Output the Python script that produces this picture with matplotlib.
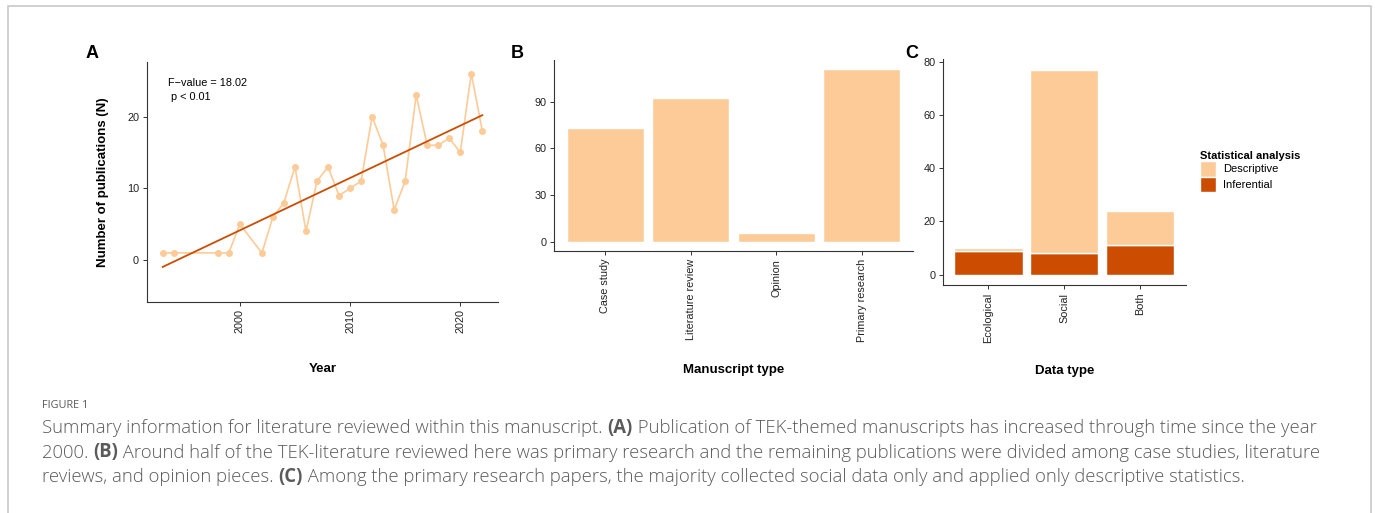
import numpy as np
import matplotlib
matplotlib.use("Agg")
import matplotlib.pyplot as plt
from matplotlib.patches import Patch

# panel A: publications per year
years = [1993, 1994, 1998, 1999, 2000, 2002, 2003, 2004, 2005, 2006, 2007, 2008, 2009,
         2010, 2011, 2012, 2013, 2014, 2015, 2016, 2017, 2018, 2019, 2020, 2021, 2022]
pubs = [1, 1, 1, 1, 5, 1, 6, 8, 13, 4, 11, 13, 9, 10, 11, 20, 16, 7, 11, 23, 16, 16, 17, 15, 26, 18]

# panel B: manuscript type
man_types = ["Case study", "Literature review", "Opinion", "Primary research"]
man_counts = [73, 92, 6, 111]

# panel C: data type x statistical analysis
data_types = ["Ecological", "Social", "Both"]
inferential = [9, 8, 11]
descriptive = [1, 69, 13]

LIGHT = "#fdcb98"
DARK = "#cc4c02"
AXC = "#333333"
FONT = "Liberation Sans"

W, H = 1375, 513
fig = plt.figure(figsize=(W / 100, H / 100), dpi=100)
plt.rcParams["font.family"] = [FONT, "DejaVu Sans"]


def px_axes(l, t, r, b):
    return fig.add_axes([l / W, 1 - b / H, (r - l) / W, (b - t) / H])


def classic(ax):
    for s in ["top", "right"]:
        ax.spines[s].set_visible(False)
    for s in ["left", "bottom"]:
        ax.spines[s].set_color(AXC)
        ax.spines[s].set_linewidth(0.8)
    ax.tick_params(colors=AXC, labelcolor="#222222", labelsize=7.8, length=3, width=0.7, pad=2.5)


# ---- A
axA = px_axes(146.7, 61.7, 498.3, 301.7)
classic(axA)
axA.plot(years, pubs, color=LIGHT, lw=1.2, marker="o", ms=4, mec=LIGHT, mfc=LIGHT)
slope, icpt = np.polyfit(years, pubs, 1)
xs = np.array([min(years), max(years)])
axA.plot(xs, slope * xs + icpt, color=DARK, lw=1.3)
axA.set_xlim(1991.55, 2023.45)
axA.set_ylim(-5.8, 27.65)
axA.set_xticks([2000, 2010, 2020])
axA.set_yticks([0, 10, 20])
for lab in axA.get_xticklabels():
    lab.set_rotation(90)
    lab.set_va("top")
axA.text(0.06, 0.93, "F\u2212value = 18.02\n p < 0.01", transform=axA.transAxes,
         fontsize=7.8, va="top", ha="left", linespacing=1.4)
axA.set_xlabel("Year", fontsize=9.5, fontweight="bold", labelpad=21)
axA.set_ylabel("Number of publications (N)", fontsize=9.5, fontweight="bold", labelpad=13)

# ---- B
axB = px_axes(554, 60, 913, 251)
classic(axB)
xb = np.arange(1, len(man_types) + 1)
axB.bar(xb, man_counts, width=0.9, color=LIGHT, edgecolor="white", lw=1)
axB.set_xlim(0.4, 4.6)
axB.set_ylim(-5.55, 116.55)
axB.set_yticks([0, 30, 60, 90])
axB.set_xticks(xb)
axB.set_xticklabels(man_types, rotation=90, va="top")
axB.set_xlabel("Manuscript type", fontsize=9.5, fontweight="bold", labelpad=16)

# ---- C
axC = px_axes(943, 59.4, 1185.5, 285)
classic(axC)
xc = np.arange(1, len(data_types) + 1)
axC.bar(xc, inferential, width=0.9, color=DARK, edgecolor="white", lw=1)
axC.bar(xc, descriptive, bottom=inferential, width=0.9, color=LIGHT, edgecolor="white", lw=1)
axC.set_xlim(0.4, 3.6)
axC.set_ylim(-3.85, 80.85)
axC.set_yticks([0, 20, 40, 60, 80])
axC.set_xticks(xc)
axC.set_xticklabels(data_types, rotation=90, va="top")
axC.set_xlabel("Data type", fontsize=9.5, fontweight="bold", labelpad=16)

handles = [Patch(facecolor=LIGHT, edgecolor="white"), Patch(facecolor=DARK, edgecolor="white")]
leg = fig.legend(handles, ["Descriptive", "Inferential"], title="Statistical analysis",
                 loc="upper left", bbox_to_anchor=(1200 / W, 1 - 151 / H), frameon=False,
                 fontsize=8, title_fontproperties={"weight": "bold", "size": 8},
                 handlelength=1.45, handleheight=1.8, handletextpad=0.6,
                 labelspacing=0.0, borderaxespad=0, borderpad=0)
leg._legend_box.align = "left"

# panel letters
for x, y, s in [(92, 53, "A"), (517, 54, "B"), (912, 54, "C")]:
    fig.text(x / W, 1 - y / H, s, fontsize=13, fontweight="bold", ha="center", va="center")

# caption
CAP = "#5a5a5a"
cfam = ["Open Sans", "DejaVu Sans"]
fig.text(42 / W, 1 - 406 / H, "FIGURE 1", fontsize=7.8, color=CAP, family=cfam,
         va="center", ha="left")
lines = [
    [("Summary information for literature reviewed within this manuscript. ", False), ("(A)", True),
     (" Publication of TEK-themed manuscripts has increased through time since the year", False)],
    [("2000. ", False), ("(B)", True),
     (" Around half of the TEK-literature reviewed here was primary research and the remaining publications were divided among case studies, literature", False)],
    [("reviews, and opinion pieces. ", False), ("(C)", True),
     (" Among the primary research papers, the majority collected social data only and applied only descriptive statistics.", False)],
]
fig.canvas.draw()
rend = fig.canvas.get_renderer()
for i, segs in enumerate(lines):
    x = 42 / W
    y = 1 - (428 + i * 24.5) / H
    for s, bold in segs:
        t = fig.text(x, y, s, fontsize=13.35, color=CAP, family=cfam, va="center", ha="left",
                     fontweight="bold" if bold else "light")
        bb = t.get_window_extent(renderer=rend)
        x += bb.width / W

# outer border
fig.add_artist(plt.Line2D([8 / W, 8 / W, 1371 / W, 1371 / W], [0, 1 - 6 / H, 1 - 6 / H, 0],
                          transform=fig.transFigure, color="#c8c8c8", lw=1.2))

fig.savefig("out.png", dpi=100)
